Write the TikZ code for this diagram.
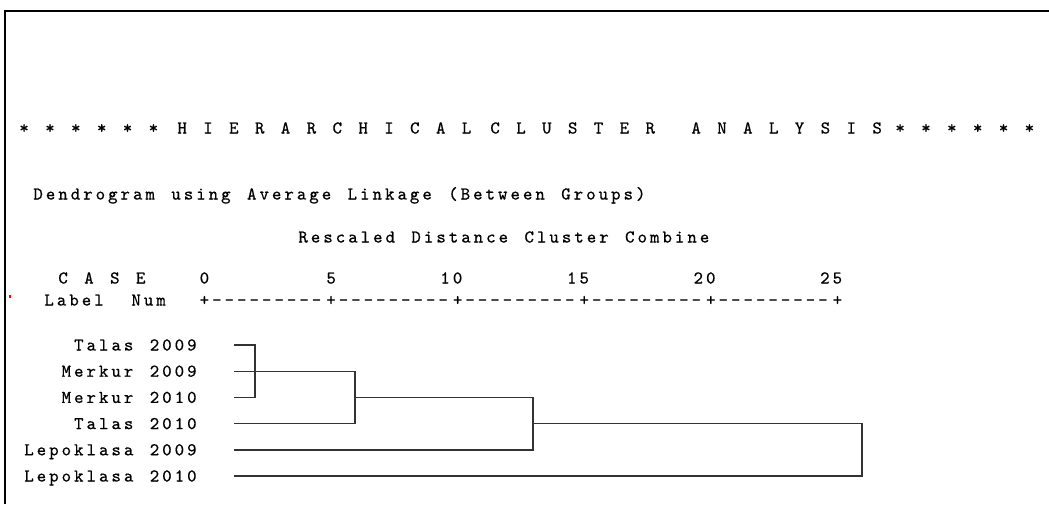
\documentclass[tikz,border=0pt]{standalone}
\usepackage{fontspec}
\usetikzlibrary{positioning}
% paso de 12.45 px por caracter: LetterSpace para las letras, WordSpace para
% el espacio (que no recibe el LetterSpace)
\newfontfamily\spssmono[LetterSpace=16.7,WordSpace=1.3175,FakeBold=0.6]{lmmono10-regular.otf}
\newcommand{\spsstext}{\fontsize{9}{11}\selectfont\spssmono}

\begin{document}
\begin{tikzpicture}[
  x=0.5pt, y=-0.5pt,
  txt/.style={inner sep=0pt, anchor=base west, font=\spsstext},
  lab/.style={txt, anchor=base east},
  link/.style={line width=0.7pt, black!80},
]
  \useasboundingbox (0,0) rectangle (1049,504);
  \fill[white] (0,0) rectangle (1049,504);

  % marco de la captura (solo se ven el borde de arriba y el de la izquierda)
  \draw[line width=1.25pt] (5,504) -- (5,11) -- (1049,11);
  \fill[red] (9,295) rectangle (11,298);

  % encabezados
  \node[txt] (star1) at (19,133.5) {* * * * * *};
  \node[txt] (hier)  at (177,133.5) {H I E R A R C H I C A L};
  \node[txt] (clus)  at (490,133.5) {C L U S T E R};
  \node[txt] (anal)  at (691,133.5) {A N A L Y S I S};
  \node[txt] (star2) at (895,133.5) {* * * * * *};

  \node[txt] (meth) at (33,199.5) {Dendrogram using Average Linkage (Between Groups)};
  \node[txt] (resc) at (298,242.5) {Rescaled Distance Cluster Combine};

  % escala 0--25
  \node[txt] (case)  at (58,283.5) {C A S E};
  \node[txt] (label) at (44,305.5) {Label};
  \node[txt] (num)   at (131,305.5) {Num};
  \node[txt] (n0)  at (199.3,283.5) {0};
  \node[txt] (n5)  at (326,283.5) {5};
  \node[txt] (n10) at (440,283.5) {10};
  \node[txt] (n15) at (566.6,283.5) {15};
  \node[txt] (n20) at (693.2,283.5) {20};
  \node[txt] (n25) at (819.8,283.5) {25};
  \foreach \k in {0,...,4}
    \node[txt] (seg\k) at (199.3+126.6*\k,305.5) {+---------};
  \node[txt] (seg5) at (832.3,305.5) {+};

  % casos
  \node[lab] (t09) at (197,350.5) {Talas 2009};
  \node[lab] (m09) at (197,376.7) {Merkur 2009};
  \node[lab] (m10) at (197,402.9) {Merkur 2010};
  \node[lab] (t10) at (197,429.1) {Talas 2010};
  \node[lab] (l09) at (197,455.3) {Lepoklasa 2009};
  \node[lab] (l10) at (197,481.5) {Lepoklasa 2010};

  \coordinate (st1) at (234,345);
  \coordinate (st2) at (234,371.2);
  \coordinate (st3) at (234,397.4);
  \coordinate (st4) at (234,423.6);
  \coordinate (st5) at (234,449.8);
  \coordinate (st6) at (234,476);

  \coordinate (ja) at (255,371.2);
  \coordinate (jb) at (355,397.4);
  \coordinate (jc) at (533,423.6);
  \coordinate (jd) at (862,449.8);

  \draw[link] (st1) -| (ja) |- (st3);
  \draw[link] (st2) -| (jb) |- (st4);
  \draw[link] (jb) -| (jc) |- (st5);
  \draw[link] (jc) -| (jd) |- (st6);
\end{tikzpicture}
\end{document}
